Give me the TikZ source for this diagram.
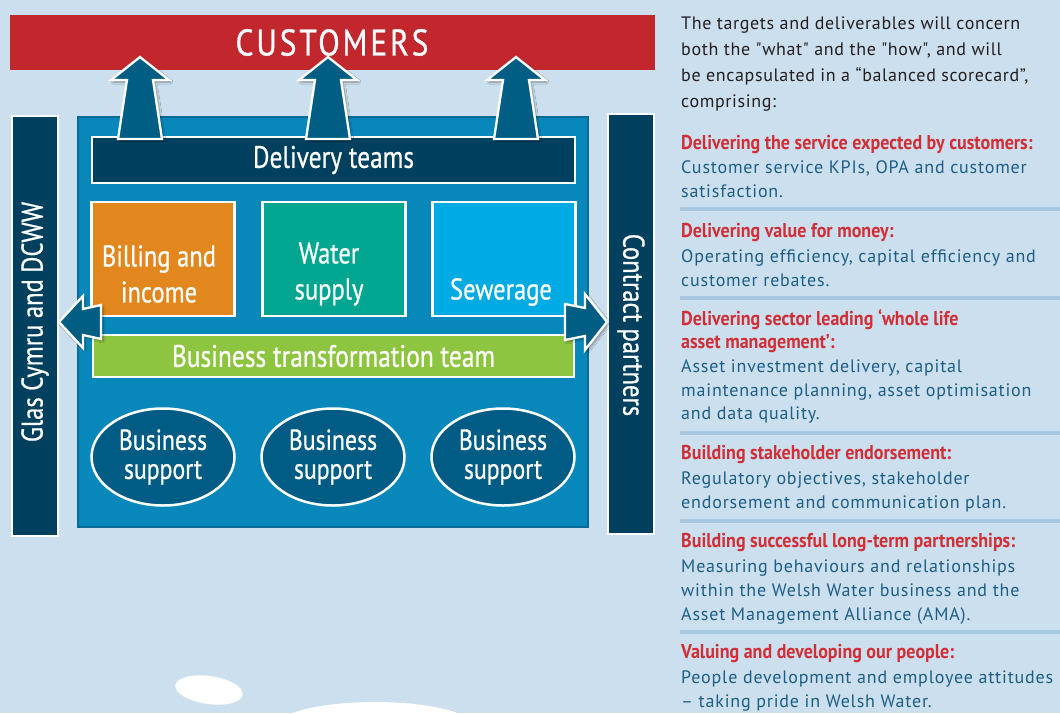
\documentclass[tikz,border=0pt]{standalone}
\usepackage{fontspec}
\setmainfont{PT Sans}
\newfontfamily\condf{PT Sans}[FakeStretch=0.82,FakeBold=0.6]
\newfontfamily\headf{PT Sans Bold}[FakeStretch=0.9]
\newfontfamily\custf{PT Sans}[FakeStretch=0.85,LetterSpace=7.8,FakeBold=0.8]
\newfontfamily\introf{PT Sans}[LetterSpace=3.5]
\newfontfamily\bodyf{PT Sans}[LetterSpace=4.5]
\usetikzlibrary{shapes.geometric,shadows.blur}
\definecolor{bgc}{HTML}{CCDFEE}
\definecolor{custred}{HTML}{C1272D}
\definecolor{mainblue}{HTML}{0787BA}
\definecolor{mainedge}{HTML}{0B6A93}
\definecolor{navy}{HTML}{00405F}
\definecolor{arrowc}{HTML}{005E85}
\definecolor{orangec}{HTML}{E2861E}
\definecolor{tealc}{HTML}{00A690}
\definecolor{skyc}{HTML}{00AAE2}
\definecolor{greenc}{HTML}{8DC540}
\definecolor{ellc}{HTML}{005C84}
\definecolor{redtxt}{HTML}{D12E36}
\definecolor{bodytxt}{HTML}{1C5E87}
\definecolor{introtxt}{HTML}{231F20}
\definecolor{sepc}{HTML}{A8C7E2}
\tikzset{
  wbox/.style={draw=white, line width=2.5pt, inner sep=0pt, text=white, align=center,
    font=\condf\fontsize{31}{36}\selectfont},
  boxlbl/.style={inner sep=0pt, text=white, align=center,
    font=\condf\fontsize{30}{36}\selectfont},
  ellbox/.style={ellipse, draw=white, line width=2.5pt, fill=ellc, inner sep=0pt,
    minimum width=143pt, minimum height=97pt, text=white, align=center,
    font=\condf\fontsize{29}{29}\selectfont},
  sidebar/.style={draw=white, line width=2.5pt, fill=navy, inner sep=0pt,
    minimum width=46pt, minimum height=420pt},
  sidetxt/.style={text=white, font=\condf\fontsize{30}{30}\selectfont, inner sep=0pt},
  blockarrow/.style={fill=arrowc, draw=white, line width=2.3pt, line join=miter,
    blur shadow={shadow xshift=2pt, shadow yshift=-2pt, shadow blur steps=6, shadow opacity=40}},
  intro/.style={anchor=base west, inner sep=0pt, text=introtxt, font=\introf\fontsize{18}{20}\selectfont},
  head/.style={anchor=base west, inner sep=0pt, text=redtxt, font=\headf\fontsize{20}{20}\selectfont},
  body/.style={anchor=base west, inner sep=0pt, text=bodytxt, font=\bodyf\fontsize{18}{20}\selectfont},
  sepline/.style={draw=sepc, line width=4pt},
}
\begin{document}
\begin{tikzpicture}[x=1pt,y=-1pt]
\useasboundingbox (0,0) rectangle (1060,713);
\clip (0,0) rectangle (1060,713);
\fill[bgc] (0,0) rectangle (1060,713);
% clouds
\fill[white, rotate around={-8:(209,690)}] (209,690) ellipse [x radius=34, y radius=14];
\fill[white] (375,726) ellipse [x radius=98, y radius=24];
% customers bar
\node[fill=custred, minimum width=645pt, minimum height=55pt, inner sep=0pt, text=white,
  font=\custf\fontsize{37}{38}\selectfont] (cust) at (332,42.5) {CUSTOMERS};
% side bars
\node[sidebar] (left) at (35,326) {};
\node[sidetxt, rotate=90] (lefttxt) at (35,322) {Glas Cymru and DCWW};
\node[sidebar] (right) at (631,324) {};
\node[sidetxt, rotate=-90] (righttxt) at (631,325) {Contract partners};
% main box
\node[fill=mainblue, draw=mainedge, line width=1.5pt, minimum width=510pt, minimum height=410pt,
  inner sep=0pt] (main) at (333,322) {};
% delivery teams
\node[wbox, fill=navy, minimum width=483pt, minimum height=46pt] (dt) at (333.5,160) {Delivery teams};
% up arrows
\foreach \cx in {140,328,516}{
  \draw[blockarrow] (\cx,57) -- (\cx+29,80) -- (\cx+13,80) -- (\cx+22,139) -- (\cx-22,139)
    -- (\cx-13,80) -- (\cx-29,80) -- cycle;
}
% service boxes
\node[wbox, fill=orangec, minimum width=143pt, minimum height=114pt] (bill) at (163,259) {};
\node[wbox, fill=tealc, minimum width=143pt, minimum height=114pt] (water) at (334,259) {};
\node[wbox, fill=skyc, minimum width=143pt, minimum height=114pt] (sew) at (504,259) {};
\node[boxlbl] (billtxt) at (159,274) {Billing and\\income};
\node[boxlbl] (watertxt) at (329,274) {Water\\supply};
\node[boxlbl] (sewtxt) at (501,292) {Sewerage};
% transformation
\node[wbox, fill=greenc, minimum width=481pt, minimum height=42pt] (btt) at (333.5,356) {Business transformation team};
% side arrows
\draw[blockarrow] (59,322) -- (83,296) -- (83,309) -- (101,305) -- (101,339) -- (83,335) -- (83,348) -- cycle;
\draw[blockarrow] (607,322) -- (585,294) -- (585,308) -- (565,304) -- (565,340) -- (585,336) -- (585,350) -- cycle;
% ellipses
\node[ellbox] (bs1) at (163,457) {Business\\support};
\node[ellbox] (bs2) at (333,457) {Business\\support};
\node[ellbox] (bs3) at (503,457) {Business\\support};
% right column
\node[intro] (i1) at (681,29) {The targets and deliverables will concern};
\node[intro] (i2) at (681,55) {both the \symbol{34}what\symbol{34} and the \symbol{34}how\symbol{34}, and will};
\node[intro] (i3) at (681,81) {be encapsulated in a “balanced scorecard”,};
\node[intro] (i4) at (681,107) {comprising:};
\node[head] (h1) at (681,149) {Delivering the service expected by customers:};
\node[body] (b11) at (681,173) {Customer service KPIs, OPA and customer};
\node[body] (b12) at (681,197) {satisfaction.};
\draw[sepline] (680,209) -- (1060,209);
\node[head] (h2) at (681,237) {Delivering value for money:};
\node[body] (b21) at (681,262) {Operating efficiency, capital efficiency and};
\node[body] (b22) at (681,286) {customer rebates.};
\draw[sepline] (680,298) -- (1060,298);
\node[head] (h3) at (681,325) {Delivering sector leading ‘whole life};
\node[head] (h3b) at (681,348) {asset management’:};
\node[body] (b31) at (681,372) {Asset investment delivery, capital};
\node[body] (b32) at (681,396) {maintenance planning, asset optimisation};
\node[body] (b33) at (681,419) {and data quality.};
\draw[sepline] (680,433) -- (1060,433);
\node[head] (h4) at (681,459) {Building stakeholder endorsement:};
\node[body] (b41) at (681,484) {Regulatory objectives, stakeholder};
\node[body] (b42) at (681,508) {endorsement and communication plan.};
\draw[sepline] (680,521) -- (1060,521);
\node[head] (h5) at (681,547) {Building successful long-term partnerships:};
\node[body] (b51) at (681,572) {Measuring behaviours and relationships};
\node[body] (b52) at (681,596) {within the Welsh Water business and the};
\node[body] (b53) at (681,620) {Asset Management Alliance (AMA).};
\draw[sepline] (680,632) -- (1060,632);
\node[head] (h6) at (681,658) {Valuing and developing our people:};
\node[body] (b61) at (681,683) {People development and employee attitudes};
\node[body] (b62) at (681,707) {– taking pride in Welsh Water.};
\end{tikzpicture}
\end{document}
